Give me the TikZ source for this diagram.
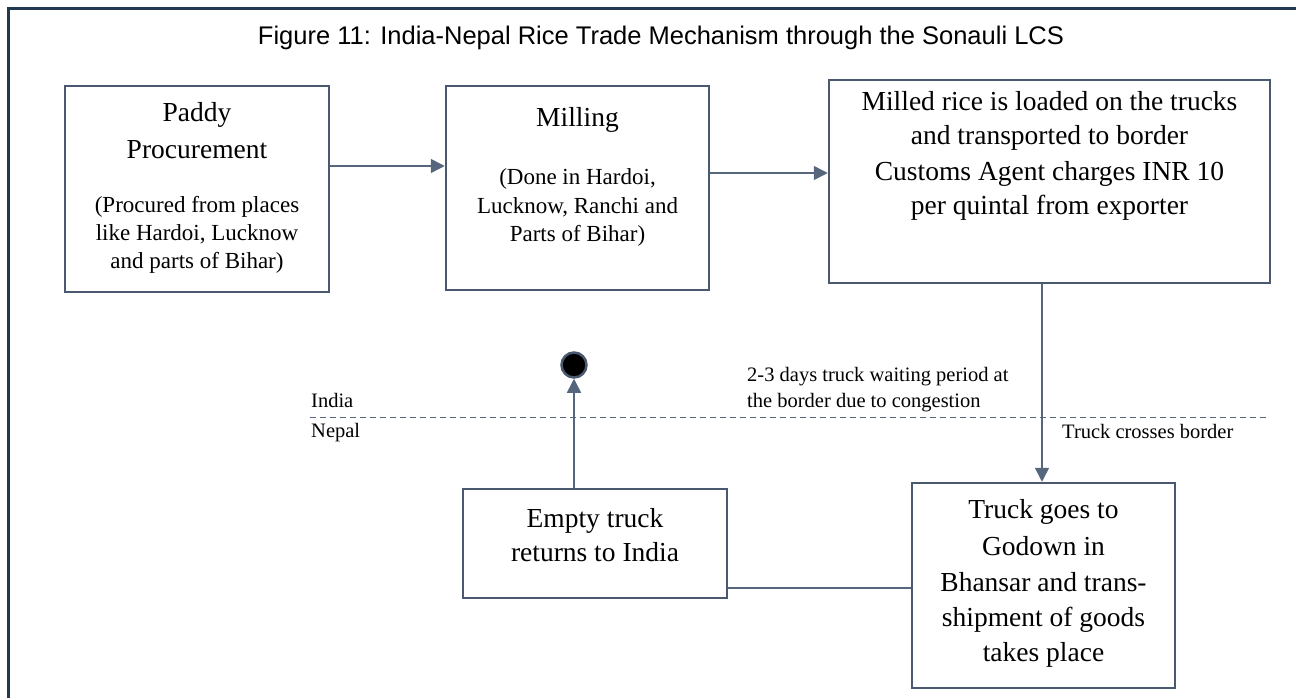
\documentclass[tikz,border=0pt]{standalone}
\usepackage{fontspec}
\setmainfont{Liberation Serif}
\newfontfamily\titlesans{Liberation Sans}
\usetikzlibrary{arrows.meta}

\definecolor{framenavy}{HTML}{213A4F}
\definecolor{slate}{HTML}{4A5870}
\definecolor{linkslate}{HTML}{56667D}

\tikzset{
  stepbox/.style={draw=slate, line width=2.5pt, fill=white, inner sep=0pt},
  bigtext/.style={font=\fontsize{27.5}{33}\selectfont, inner sep=0pt, anchor=base},
  smalltext/.style={font=\fontsize{23}{28}\selectfont, inner sep=0pt, anchor=base},
  notetext/.style={font=\fontsize{20.5}{26}\selectfont, inner sep=0pt, anchor=base west},
  flow/.style={draw=linkslate, line width=1.5pt, -{Triangle[length=14pt,width=14pt]}},
  plainlink/.style={draw=linkslate, line width=1.5pt},
  border/.style={draw=linkslate, line width=1pt, dash pattern=on 6pt off 4pt},
}

\begin{document}
\begin{tikzpicture}[x=1pt,y=-1pt]
\useasboundingbox (0,0) rectangle (1296,698);

% outer frame, open towards the right and bottom
\draw[framenavy, line width=3pt] (8.5,705) -- (8.5,8.5) -- (1305,8.5);

% title
\node[font=\titlesans\fontsize{25.5}{30}\selectfont, inner sep=0pt, anchor=base]
  (title) at (661,45) {Figure 11: India-Nepal Rice Trade Mechanism through the Sonauli LCS};

% process boxes
\node[stepbox, minimum width=264pt, minimum height=206pt] (b1) at (197,189) {};
\node[stepbox, minimum width=263pt, minimum height=204pt] (b2) at (577.5,188) {};
\node[stepbox, minimum width=441pt, minimum height=203pt] (b3) at (1049.5,181.5) {};
\node[stepbox, minimum width=264pt, minimum height=109pt] (b4) at (595,543.5) {};
\node[stepbox, minimum width=263pt, minimum height=205pt] (b5) at (1043.5,585.5) {};

% box 1
\node[bigtext] (t1a) at (197,122) {Paddy};
\node[bigtext] (t1b) at (197,158) {Procurement};
\node[smalltext] (t1c) at (197,212) {(Procured from places};
\node[smalltext] (t1d) at (197,240) {like Hardoi, Lucknow};
\node[smalltext] (t1e) at (197,268) {and parts of Bihar)};

% box 2
\node[bigtext] (t2a) at (577.5,127) {Milling};
\node[smalltext] (t2b) at (577.5,185) {(Done in Hardoi,};
\node[smalltext] (t2c) at (577.5,213) {Lucknow, Ranchi and};
\node[smalltext] (t2d) at (577.5,241) {Parts of Bihar)};

% box 3
\node[bigtext] (t3a) at (1049.5,111) {Milled rice is loaded on the trucks};
\node[bigtext] (t3b) at (1049.5,145) {and transported to border};
\node[bigtext] (t3c) at (1049.5,181) {Customs Agent charges INR 10};
\node[bigtext] (t3d) at (1049.5,214) {per quintal from exporter};

% box 4
\node[bigtext] (t4a) at (595,527) {Empty truck};
\node[bigtext] (t4b) at (595,561) {returns to India};

% box 5
\node[bigtext] (t5a) at (1043.5,518) {Truck goes to};
\node[bigtext] (t5b) at (1043.5,555) {Godown in};
\node[bigtext] (t5c) at (1043.5,591) {Bhansar and trans-};
\node[bigtext] (t5d) at (1043.5,626) {shipment of goods};
\node[bigtext] (t5e) at (1043.5,661) {takes place};

% border between the two countries
\coordinate (borderW) at (310,417);
\coordinate (borderE) at (1268,417);
\draw[border] (borderW) -- (borderE);
\node[notetext] (india) at (311,407) {India};
\node[notetext] (nepal) at (311,437) {Nepal};
\node[notetext] (wait1) at (747,381) {2-3 days truck waiting period at};
\node[notetext] (wait2) at (747,407) {the border due to congestion};
\node[notetext] (cross) at (1062,438) {Truck crosses border};

% end point of the return trip
\node[circle, draw=slate, line width=2.5pt, fill=black, minimum size=25pt, inner sep=0pt] (dot) at (574,365) {};

% connectors
\draw[flow] ([yshift=23pt]b1.east) coordinate (a1) -- (a1 -| b2.west);
\draw[flow] ([yshift=15pt]b2.east) coordinate (a2) -- (a2 -| b3.west);
\draw[flow] ([xshift=-7.5pt]b3.south) coordinate (a3) -- (a3 |- b5.north);
\draw[plainlink] ([yshift=-2.5pt]b5.west) coordinate (a4) -- (a4 -| b4.east);
\draw[flow] ([xshift=-21pt]b4.north) coordinate (a5) -- (a5 |- dot.south);
\end{tikzpicture}
\end{document}
